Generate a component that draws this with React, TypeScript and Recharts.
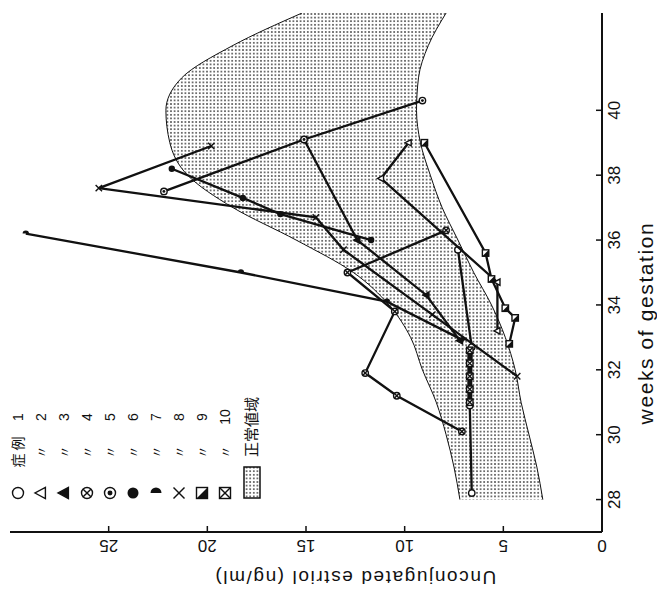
import { Area, ComposedChart, Line, Scatter, XAxis, YAxis } from 'recharts';

// chart is drawn upright, then the whole block is turned 90deg like the scan
const W = 599;
const H = 657;

const WEEK_TICKS = [28, 30, 32, 34, 36, 38, 40];
const ESTRIOL_TICKS = [0, 5, 10, 15, 20, 25];

// normal range (正常値域), read at each week
const BAND_WEEKS = [28, 29, 30, 31, 32, 33, 34, 35, 36, 37, 38, 39, 40, 41, 42, 43];
const BAND_LOW = [3.0, 3.3, 3.7, 4.1, 4.4, 4.9, 5.6, 6.5, 7.3, 8.1, 8.7, 9.2, 9.4, 9.3, 8.8, 7.9];
const BAND_HIGH = [7.2, 7.5, 7.9, 8.4, 9.1, 9.7, 10.8, 12.6, 15.5, 18.7, 21.0, 21.9, 22.1, 21.3, 18.7, 15.2];

// [week, ng/ml]
const CASE_1 = [[28.2, 6.6], [30.9, 6.7], [32.7, 6.6], [35.7, 7.3]];
const CASE_2 = [[33.2, 5.3], [34.7, 5.3], [37.9, 11.2], [39.0, 9.8]];
const CASE_3 = [[32.9, 7.2], [34.3, 8.9], [36.0, 12.4], [39.1, 15.1]];
const CASE_4 = [[30.1, 7.1], [31.2, 10.4], [31.9, 12.0], [33.8, 10.5], [35.0, 12.9], [36.3, 7.9]];
const CASE_5 = [[37.5, 22.2], [39.1, 15.1], [40.3, 9.1]];
const CASE_6 = [[36.0, 11.7], [36.8, 16.3], [37.3, 18.2], [38.2, 21.8]];
const CASE_7 = [[32.9, 7.0], [34.1, 10.9], [35.0, 18.3], [36.2, 29.2]];
const CASE_8 = [[31.8, 4.3], [33.7, 8.6], [35.7, 13.1], [36.7, 14.5], [37.6, 25.5], [38.9, 19.8]];
const CASE_9 = [[32.8, 4.7], [33.6, 4.4], [33.9, 4.9], [34.8, 5.6], [35.6, 5.9], [39.0, 9.0]];
const CASE_10 = [[31.0, 6.7], [31.4, 6.7], [31.8, 6.7], [32.2, 6.7], [32.6, 6.7]];

const CASES = [CASE_1, CASE_2, CASE_3, CASE_4, CASE_5, CASE_6, CASE_7, CASE_8, CASE_9, CASE_10];
const MARKERS = ['circle', 'tri', 'triFill', 'otimes', 'odot', 'dot', 'half', 'cross', 'halfSq', 'boxX'];
const CASE_LABELS = ['1', '2', '3', '4', '5', '6', '7', '8', '9', '10'];

const bandData = BAND_WEEKS.map((w, i) => ({
  week: w,
  low: BAND_LOW[i],
  high: BAND_HIGH[i],
  band: [BAND_LOW[i], BAND_HIGH[i]],
}));

const INK = '#111';
const SANS = '"Liberation Sans", Arial, sans-serif';
const CJK = '"Noto Sans CJK JP", "Noto Sans CJK SC", sans-serif';

function Marker({ kind, cx, cy, s }: { kind: string; cx: number; cy: number; s: number }) {
  const sw = 1.4;
  switch (kind) {
    case 'circle':
      return <circle cx={cx} cy={cy} r={s} fill="#fff" stroke={INK} strokeWidth={sw} />;
    case 'tri':
    case 'triFill': {
      const pts = `${cx},${cy - s * 1.1} ${cx - s},${cy + s * 0.8} ${cx + s},${cy + s * 0.8}`;
      return <polygon points={pts} fill={kind === 'tri' ? '#fff' : INK} stroke={INK} strokeWidth={sw} />;
    }
    case 'otimes': {
      const d = s * 0.7;
      return (
        <g stroke={INK} strokeWidth={sw}>
          <circle cx={cx} cy={cy} r={s} fill="#fff" />
          <line x1={cx - d} y1={cy - d} x2={cx + d} y2={cy + d} />
          <line x1={cx - d} y1={cy + d} x2={cx + d} y2={cy - d} />
        </g>
      );
    }
    case 'odot':
      return (
        <g>
          <circle cx={cx} cy={cy} r={s} fill="#fff" stroke={INK} strokeWidth={sw} />
          <circle cx={cx} cy={cy} r={s * 0.45} fill={INK} />
        </g>
      );
    case 'dot':
      return <circle cx={cx} cy={cy} r={s} fill={INK} />;
    case 'half':
      return <path d={`M${cx},${cy - s} A${s},${s} 0 0 1 ${cx},${cy + s} Z`} fill={INK} />;
    case 'cross':
      return (
        <g stroke={INK} strokeWidth={sw}>
          <line x1={cx - s} y1={cy - s} x2={cx + s} y2={cy + s} />
          <line x1={cx - s} y1={cy + s} x2={cx + s} y2={cy - s} />
        </g>
      );
    case 'halfSq':
      return (
        <g>
          <rect x={cx - s} y={cy - s} width={s * 2} height={s * 2} fill="#fff" stroke={INK} strokeWidth={sw} />
          <polygon points={`${cx - s},${cy - s} ${cx - s},${cy + s} ${cx + s},${cy + s}`} fill={INK} />
        </g>
      );
    case 'boxX':
      return (
        <g stroke={INK} strokeWidth={sw}>
          <rect x={cx - s} y={cy - s} width={s * 2} height={s * 2} fill="#fff" />
          <line x1={cx - s} y1={cy - s} x2={cx + s} y2={cy + s} />
          <line x1={cx - s} y1={cy + s} x2={cx + s} y2={cy - s} />
        </g>
      );
    default:
      return null;
  }
}

function WeekTick(props: any) {
  const { x, y, payload } = props;
  return (
    <g>
      <line x1={x} y1={y} x2={x} y2={y - 6} stroke={INK} strokeWidth={1.5} />
      <text x={x} y={y + 18} textAnchor="middle" fontSize={17} fontFamily={SANS} fill={INK}>
        {payload.value}
      </text>
    </g>
  );
}

function EstriolTick(props: any) {
  const { x, y, payload } = props;
  const tx = x - 8;
  return (
    <g>
      <line x1={x} y1={y} x2={x + 6} y2={y} stroke={INK} strokeWidth={1.5} />
      <text
        x={tx}
        y={y}
        transform={`rotate(-90 ${tx} ${y})`}
        textAnchor="middle"
        fontSize={17}
        fontFamily={SANS}
        fill={INK}
      >
        {payload.value}
      </text>
    </g>
  );
}

function Overlay() {
  const rowY = (i: number) => 18 + i * 23;
  return (
    <svg width={W} height={H} style={{ position: 'absolute', left: 0, top: 0, pointerEvents: 'none' }}>
      <defs>
        <pattern id="dotsLegend" width="3.6" height="3.6" patternUnits="userSpaceOnUse">
          <circle cx="1.8" cy="1.8" r="0.8" fill="#222" />
        </pattern>
      </defs>
      {CASE_LABELS.map((lab, i) => (
        <g key={lab}>
          <Marker kind={MARKERS[i]} cx={106} cy={rowY(i)} s={5.5} />
          {i === 0 ? (
            <text x={147} y={rowY(i) + 5} textAnchor="middle" fontSize={14} fontFamily={CJK} fill={INK}>
              症 例
            </text>
          ) : (
            <text x={147} y={rowY(i) + 5} textAnchor="middle" fontSize={13} fontFamily={CJK} fill={INK}>
              〃
            </text>
          )}
          <text x={182} y={rowY(i) + 5} textAnchor="middle" fontSize={14} fontFamily={SANS} fill={INK}>
            {lab}
          </text>
        </g>
      ))}
      <rect x={101} y={244} width={31} height={16} fill="url(#dotsLegend)" stroke={INK} strokeWidth={1.5} />
      <text x={172} y={257} textAnchor="middle" fontSize={15} fontFamily={CJK} fill={INK}>
        正常値域
      </text>
      <text x={276} y={653} textAnchor="middle" fontSize={21} letterSpacing={1.6} fontFamily={SANS} fill={INK}>
        weeks of gestation
      </text>
      <text
        x={28}
        y={355}
        transform="rotate(-90 28 355)"
        textAnchor="middle"
        fontSize={19}
        letterSpacing={1.6}
        fontFamily={SANS}
        fill={INK}
      >
        Unconjugated estriol (ng/ml)
      </text>
    </svg>
  );
}

export default function App() {
  return (
    <div style={{ position: 'absolute', left: 0, top: 0, width: 657, height: 599, overflow: 'hidden', background: '#fff' }}>
      <div
        style={{
          position: 'absolute',
          left: 0,
          top: 0,
          width: W,
          height: H,
          transformOrigin: '0 0',
          transform: `translate(0px, ${W}px) rotate(-90deg)`,
        }}
      >
        <ComposedChart width={W} height={H} data={bandData} margin={{ top: 10, right: 13, bottom: 0, left: 0 }}>
          <defs>
            <pattern id="dots" width="3.6" height="3.6" patternUnits="userSpaceOnUse">
              <circle cx="1.8" cy="1.8" r="0.8" fill="#222" />
            </pattern>
          </defs>
          <XAxis
            type="number"
            dataKey="week"
            domain={[27, 43]}
            ticks={WEEK_TICKS}
            height={55}
            tickSize={0}
            tickMargin={0}
            tickLine={false}
            axisLine={{ stroke: INK, strokeWidth: 2 }}
            tick={<WeekTick />}
            allowDataOverflow
          />
          <YAxis
            type="number"
            dataKey="est"
            domain={[0, 30]}
            ticks={ESTRIOL_TICKS}
            width={67}
            tickSize={0}
            tickMargin={0}
            tickLine={false}
            axisLine={{ stroke: INK, strokeWidth: 2 }}
            tick={<EstriolTick />}
            allowDataOverflow
          />
          <Area
            type="monotone"
            dataKey="band"
            fill="url(#dots)"
            fillOpacity={1}
            stroke="none"
            isAnimationActive={false}
          />
          <Line type="monotone" dataKey="low" stroke={INK} strokeWidth={1} dot={false} isAnimationActive={false} />
          <Line type="monotone" dataKey="high" stroke={INK} strokeWidth={1} dot={false} isAnimationActive={false} />
          {CASES.map((c, i) => (
            <Scatter
              key={CASE_LABELS[i]}
              name={`症例 ${CASE_LABELS[i]}`}
              data={c.map(([week, est]) => ({ week, est }))}
              line={{ stroke: INK, strokeWidth: i === 9 ? 5 : 2.3 }}
              shape={(p: any) => <Marker kind={MARKERS[i]} cx={p.cx} cy={p.cy} s={3.2} />}
              isAnimationActive={false}
            />
          ))}
        </ComposedChart>
        <Overlay />
      </div>
    </div>
  );
}
